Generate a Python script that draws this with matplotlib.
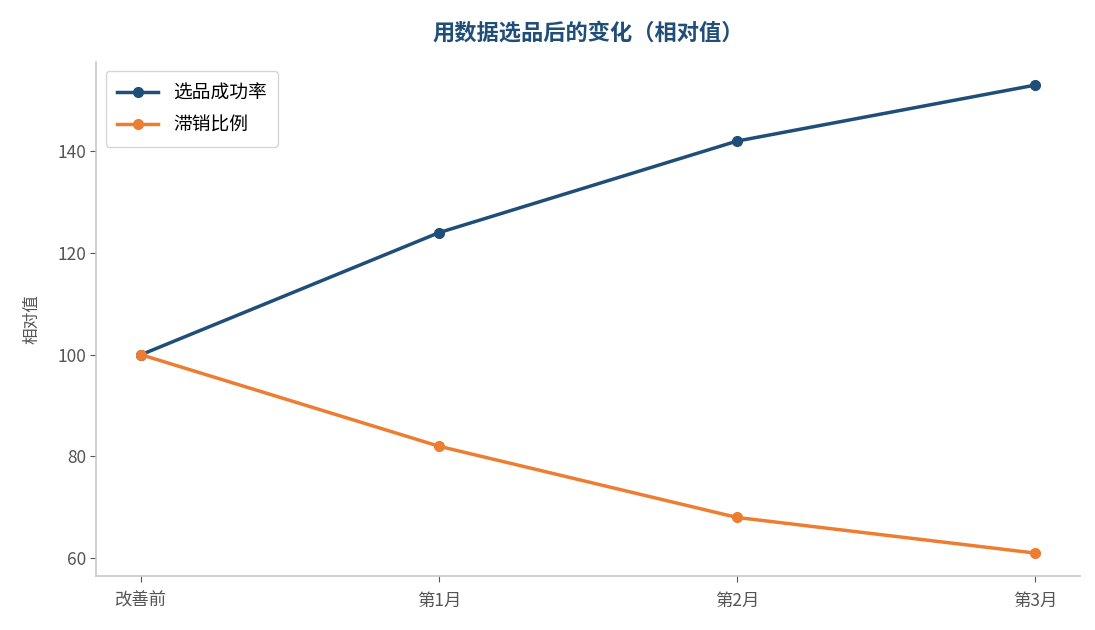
import matplotlib.pyplot as plt

plt.rcParams['font.family'] = ['Noto Sans CJK SC', 'DejaVu Sans']

months = ['改善前', '第1月', '第2月', '第3月']
success_rate = [100, 124, 142, 153]
slow_ratio = [100, 82, 68, 61]

blue = '#1f4e79'
orange = '#ed7d31'

fig, ax = plt.subplots(figsize=(10.95, 6.3), dpi=100)

ax.plot(months, success_rate, color=blue, linewidth=2.5, marker='o', markersize=7, label='选品成功率')
ax.plot(months, slow_ratio, color=orange, linewidth=2.5, marker='o', markersize=7, label='滞销比例')

ax.set_title('用数据选品后的变化（相对值）', fontsize=16, fontweight='bold', color=blue, pad=16)
ax.set_ylabel('相对值', fontsize=12, color='#555555', labelpad=12)

for s in ['top', 'right']:
    ax.spines[s].set_visible(False)
for s in ['left', 'bottom']:
    ax.spines[s].set_color('#c8c8c8')
    ax.spines[s].set_linewidth(1.2)

ax.tick_params(colors='#555555', labelsize=12.5, length=4)
ax.tick_params(axis='x', pad=7)
ax.set_yticks([60, 80, 100, 120, 140])

leg = ax.legend(loc='upper left', fontsize=13.5, frameon=True, borderpad=0.6,
                labelspacing=0.6, handlelength=2.2)
leg.get_frame().set_edgecolor('#cccccc')

plt.subplots_adjust(left=0.088, right=0.986, top=0.902, bottom=0.085)
plt.savefig('out.png')
